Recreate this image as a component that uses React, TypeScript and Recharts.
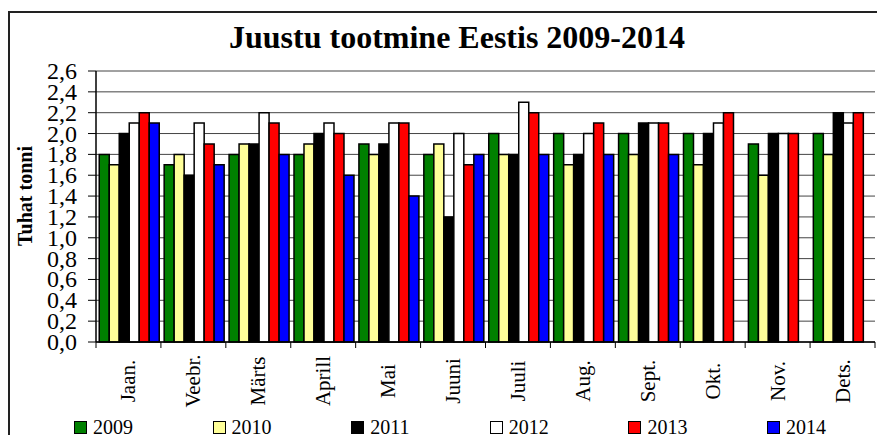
import React from 'react';
import { BarChart, Bar, XAxis, YAxis, CartesianGrid } from 'recharts';

const months = ['Jaan.', 'Veebr.', 'Märts', 'Aprill', 'Mai', 'Juuni', 'Juuli', 'Aug.', 'Sept.', 'Okt.', 'Nov.', 'Dets.'];

const v2009 = [1.8, 1.7, 1.8, 1.8, 1.9, 1.8, 2.0, 2.0, 2.0, 2.0, 1.9, 2.0];
const v2010 = [1.7, 1.8, 1.9, 1.9, 1.8, 1.9, 1.8, 1.7, 1.8, 1.7, 1.6, 1.8];
const v2011 = [2.0, 1.6, 1.9, 2.0, 1.9, 1.2, 1.8, 1.8, 2.1, 2.0, 2.0, 2.2];
const v2012 = [2.1, 2.1, 2.2, 2.1, 2.1, 2.0, 2.3, 2.0, 2.1, 2.1, 2.0, 2.1];
const v2013 = [2.2, 1.9, 2.1, 2.0, 2.1, 1.7, 2.2, 2.1, 2.1, 2.2, 2.0, 2.2];
const v2014 = [2.1, 1.7, 1.8, 1.6, 1.4, 1.8, 1.8, 1.8, 1.8, null, null, null];

const yTicks = [0, 0.2, 0.4, 0.6, 0.8, 1.0, 1.2, 1.4, 1.6, 1.8, 2.0, 2.2, 2.4, 2.6];

const series = [
  { key: 'y2009', name: '2009', values: v2009, color: '#008000' },
  { key: 'y2010', name: '2010', values: v2010, color: '#FFFF99' },
  { key: 'y2011', name: '2011', values: v2011, color: '#000000' },
  { key: 'y2012', name: '2012', values: v2012, color: '#FFFFFF' },
  { key: 'y2013', name: '2013', values: v2013, color: '#FF0000' },
  { key: 'y2014', name: '2014', values: v2014, color: '#0000FF' },
];

const data = months.map((m, i) => {
  const row: Record<string, string | number | null> = { month: m };
  series.forEach((s) => {
    row[s.key] = s.values[i];
  });
  return row;
});

const W = 877;
const H = 427;
const margin = { top: 63, right: 10, left: 0, bottom: 0 };
const Y_W = 88;
const band = (W - margin.left - margin.right - Y_W) / months.length;
const FONT = 'Liberation Serif, Times New Roman, serif';

const MonthTick = (props: any) => {
  const { x, y, payload, index } = props;
  return (
    <g>
      <line x1={x - band / 2} x2={x - band / 2} y1={y} y2={y + 6} stroke="#000" strokeWidth={1} />
      {index === months.length - 1 && (
        <line x1={x + band / 2} x2={x + band / 2} y1={y} y2={y + 6} stroke="#000" strokeWidth={1} />
      )}
      <text
        x={x}
        y={y + 39}
        transform={`rotate(-90, ${x}, ${y + 39})`}
        textAnchor="middle"
        dominantBaseline="central"
        style={{ fontFamily: FONT, fontSize: 21 }}
        fill="#000"
      >
        {payload.value}
      </text>
    </g>
  );
};

const ValueTick = (props: any) => {
  const { x, y, payload } = props;
  return (
    <text
      x={x}
      y={y}
      textAnchor="end"
      dominantBaseline="central"
      style={{ fontFamily: FONT, fontSize: 24 }}
      fill="#000"
    >
      {payload.value.toFixed(1).replace('.', ',')}
    </text>
  );
};

const YLabel = () => (
  <text
    x={17}
    y={188}
    transform="rotate(-90, 17, 188)"
    textAnchor="middle"
    dominantBaseline="central"
    style={{ fontFamily: FONT, fontSize: 20, fontWeight: 'bold' }}
    fill="#000"
  >
    Tuhat tonni
  </text>
);

const App = () => {
  return (
    <div style={{ position: 'relative', width: W, height: H, overflow: 'hidden', fontFamily: FONT }}>
      <div
        style={{
          position: 'absolute',
          left: 0,
          top: 3,
          width: 1000,
          height: 1000,
          border: '2px solid #222',
          boxSizing: 'border-box',
        }}
      />
      <div
        style={{
          position: 'absolute',
          left: 0,
          width: 898,
          top: 11,
          textAlign: 'center',
          fontWeight: 'bold',
          fontSize: 32,
          lineHeight: '36px',
        }}
      >
        Juustu tootmine Eestis 2009-2014
      </div>
      <BarChart
        width={W}
        height={H}
        data={data}
        margin={margin}
        barCategoryGap="5%"
        barGap={0}
        style={{ position: 'absolute', left: 0, top: 0 }}
      >
        <CartesianGrid vertical={false} stroke="#444" strokeWidth={1} />
        <XAxis
          dataKey="month"
          height={93}
          interval={0}
          tickLine={false}
          tickSize={0}
          tickMargin={0}
          axisLine={{ stroke: '#000', strokeWidth: 1.5 }}
          tick={<MonthTick />}
        />
        <XAxis xAxisId="top" dataKey="month" orientation="top" height={0} tick={false} tickLine={false} axisLine={{ stroke: '#888', strokeWidth: 2 }} />
        <YAxis
          width={Y_W}
          domain={[0, 2.6]}
          ticks={yTicks}
          interval={0}
          tickSize={8}
          tickMargin={11}
          tick={<ValueTick />}
          tickLine={{ stroke: '#000' }}
          axisLine={{ stroke: '#000', strokeWidth: 1.5 }}
          label={{ content: <YLabel /> }}
        />
        <YAxis yAxisId="right" orientation="right" width={0} domain={[0, 2.6]} tick={false} tickLine={false} axisLine={{ stroke: '#888', strokeWidth: 2 }} />
        {series.map((s) => (
          <Bar key={s.key} dataKey={s.key} name={s.name} fill={s.color} stroke="#000" strokeWidth={1.5} isAnimationActive={false} />
        ))}
      </BarChart>
      <div style={{ position: 'absolute', left: 66, top: 409, display: 'flex', fontSize: 20, lineHeight: '20px' }}>
        {series.map((s) => (
          <div key={s.key} style={{ width: 138.6, display: 'flex', alignItems: 'center', height: 20 }}>
            <span
              style={{
                display: 'inline-block',
                width: 11,
                height: 11,
                background: s.color,
                border: '1px solid #000',
                marginRight: 6,
              }}
            />
            <span>{s.name}</span>
          </div>
        ))}
      </div>
    </div>
  );
};

export default App;
